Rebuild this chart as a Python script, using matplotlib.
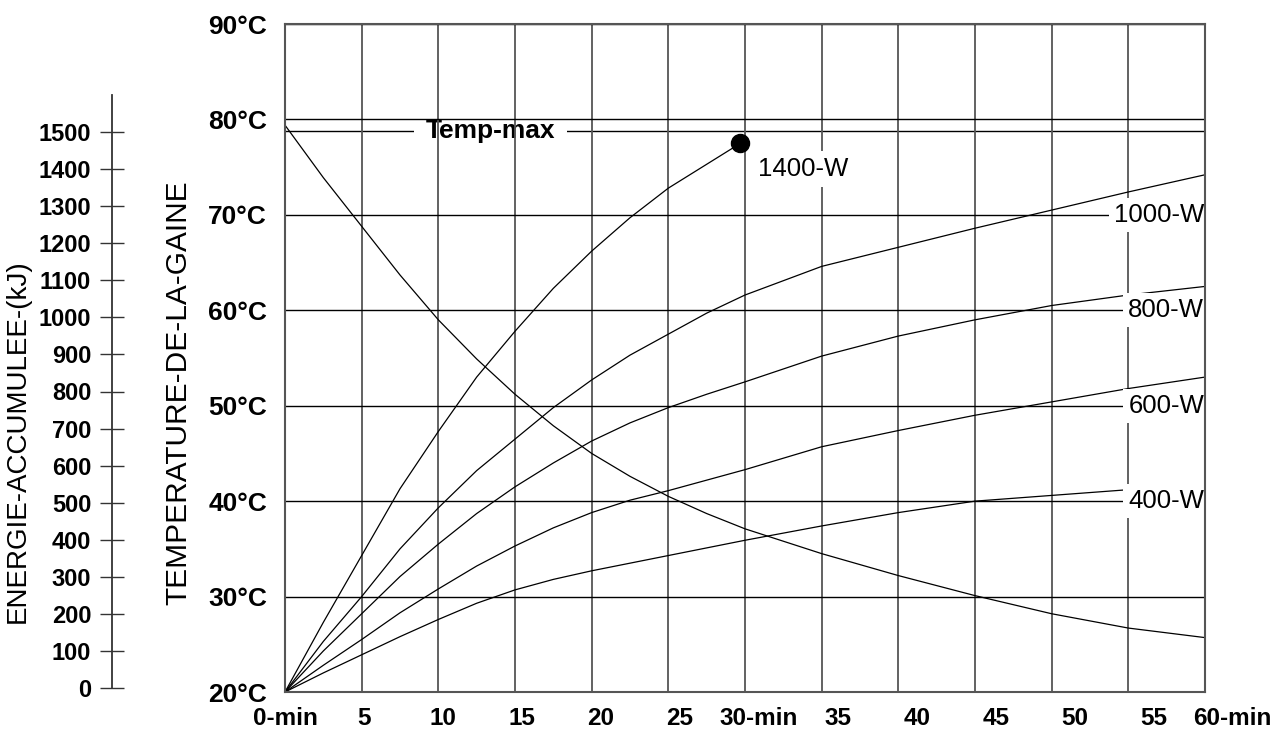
import matplotlib
matplotlib.use("Agg")
import matplotlib.pyplot as plt

# temperatures (°C); denser in the first half where the curves bend
minutes = [0, 2.5, 5, 7.5, 10, 12.5, 15, 17.5, 20, 22.5, 25, 27.5, 30, 35, 40, 45, 50, 55, 60]
temp_1000w = [20, 25.3, 30.0, 35.0, 39.3, 43.2, 46.5, 49.8, 52.7, 55.3, 57.5, 59.7, 61.6,
              64.6, 66.6, 68.6, 70.5, 72.4, 74.2]
temp_800w = [20, 24.3, 28.2, 32.1, 35.5, 38.7, 41.5, 44.0, 46.3, 48.2, 49.8, 51.2, 52.5,
             55.2, 57.3, 59.0, 60.5, 61.6, 62.5]
temp_600w = [20, 22.8, 25.5, 28.3, 30.8, 33.2, 35.3, 37.2, 38.8, 40.1, 41.1, 42.2, 43.3,
             45.7, 47.4, 49.0, 50.4, 51.8, 53.0]
temp_400w = [20, 22.0, 23.9, 25.8, 27.6, 29.3, 30.7, 31.8, 32.7, 33.5, 34.3, 35.1, 35.9,
             37.4, 38.8, 40.0, 40.6, 41.2, 41.5]
# stored energy curve, drawn against the temperature grid
energy_curve = [79.4, 73.9, 68.8, 63.7, 59.0, 54.9, 51.2, 47.9, 45.0, 42.6, 40.5, 38.7, 37.1,
                34.5, 32.2, 30.1, 28.2, 26.7, 25.7]

# 1400 W stops when it reaches temp-max
minutes_1400w = [0, 2.5, 5, 7.5, 10, 12.5, 15, 17.5, 20, 22.5, 25, 27.5, 29.7]
temp_1400w = [20, 27.3, 34.3, 41.3, 47.3, 53.0, 57.8, 62.3, 66.2, 69.7, 72.8, 75.3, 77.5]

temp_max = 78.75

grid_minutes = [0, 5, 10, 15, 20, 25, 30, 35, 40, 45, 50, 55, 60]
x_labels = ["0-min", "5", "10", "15", "20", "25", "30-min",
            "35", "40", "45", "50", "55", "60-min"]
temp_ticks = [20, 30, 40, 50, 60, 70, 80, 90]
temp_labels = ["20°C", "30°C", "40°C", "50°C", "60°C", "70°C", "80°C", "90°C"]
energy_ticks = list(range(0, 1501, 100))

power_labels = ["1000-W", "800-W", "600-W", "400-W"]
power_label_temps = [70, 60, 50, 40]

plt.rcParams["font.family"] = ["Liberation Sans", "DejaVu Sans"]

W, H = 1274, 748
fig = plt.figure(figsize=(W / 100, H / 100), dpi=100)
ax = fig.add_axes([285 / W, 1 - 692 / H, 920 / W, 668 / H])
ax.set_xlim(0, 60)
ax.set_ylim(20, 90)
ax.set_axisbelow(True)

ax.set_xticks(grid_minutes)
ax.set_xticklabels([])
ax.set_yticks(temp_ticks)
ax.set_yticklabels(temp_labels, fontsize=19, fontweight="bold")
ax.tick_params(axis="both", length=0)
ax.tick_params(axis="y", pad=13)
ax.grid(axis="x", color="#555555", lw=1.3)
ax.grid(axis="y", color="black", lw=1.0)
for s in ax.spines.values():
    s.set_color("#555555")
    s.set_linewidth(1.5)

# x labels drift a little wider than the grid in the original
label_step = 1.03
for t, lbl in zip(grid_minutes, x_labels):
    ax.text(t * label_step, -0.039, lbl, transform=ax.get_xaxis_transform(),
            ha="center", va="center", fontsize=17.5, fontweight="bold", clip_on=False)

# curves
for temps in [temp_1000w, temp_800w, temp_600w, temp_400w]:
    ax.plot(minutes, temps, color="black", lw=0.9, zorder=2)
ax.plot(minutes, energy_curve, color="black", lw=0.9, zorder=2)
ax.plot(minutes_1400w, temp_1400w, color="black", lw=0.9, zorder=2)
ax.plot(minutes_1400w[-1], temp_1400w[-1], "o", ms=13, color="black", zorder=3)

# temp-max line with its label sitting under the grid
ax.axhline(temp_max, color="black", lw=1.0, zorder=0.3)
ax.text(13.4, temp_max, "Temp-max", ha="center", va="center", fontsize=19,
        fontweight="bold", zorder=0.4,
        bbox=dict(boxstyle="square,pad=0.45", fc="white", ec="none"))

ax.text(30.85, 74.8, "1400-W", ha="left", va="center", fontsize=18.5, zorder=2.2,
        bbox=dict(boxstyle="square,pad=0.25", fc="white", ec="none"))
for lbl, tv in zip(power_labels, power_label_temps):
    ax.text(59.95, tv, lbl, ha="right", va="center", fontsize=18.5, zorder=2.2,
            bbox=dict(boxstyle="square,pad=0.2", fc="white", ec="none"))

# energy scale on the far left
ax_e = fig.add_axes([112 / W, 1 - 688 / H, 0.0005, (688 - 95) / H])
ax_e.patch.set_visible(False)
ax_e.set_ylim(0, 1600)
ax_e.set_yticks(energy_ticks)
ax_e.set_yticklabels([str(v) for v in energy_ticks], fontsize=17, fontweight="bold")
ax_e.tick_params(axis="y", direction="inout", length=17, width=1.0, pad=6.5,
                 color="#333333")
ax_e.set_xticks([])
for name in ["top", "right", "bottom"]:
    ax_e.spines[name].set_visible(False)
ax_e.spines["left"].set_color("#333333")
ax_e.spines["left"].set_linewidth(1.3)

fig.text(18 / W, 1 - 441 / H, "ENERGIE-ACCUMULEE-(kJ)", rotation=90,
         ha="center", va="center", fontsize=20)
fig.text(178 / W, 1 - 393 / H, "TEMPERATURE-DE-LA-GAINE", rotation=90,
         ha="center", va="center", fontsize=21.5)

fig.savefig("out.png", dpi=100, facecolor="white")
